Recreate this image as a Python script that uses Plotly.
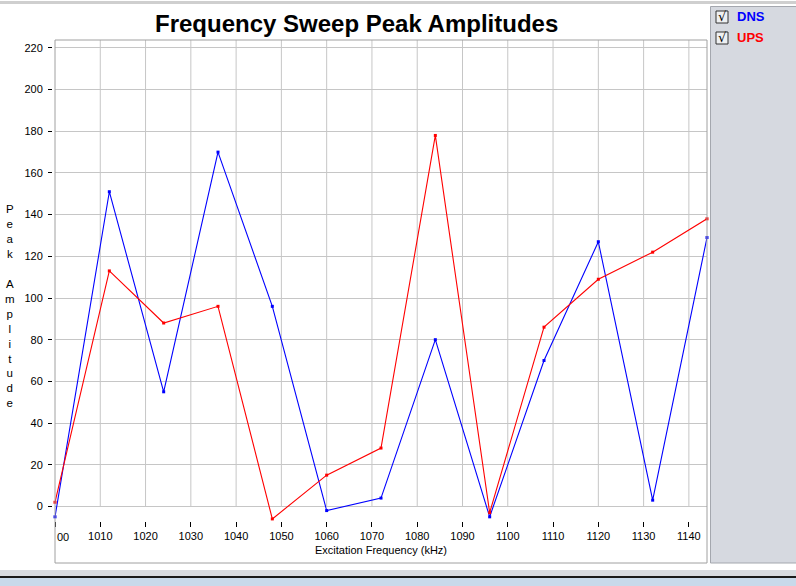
import plotly.graph_objects as go

# ---- data ----
freq_khz = [1000, 1012, 1024, 1036, 1048, 1060, 1072, 1084, 1096, 1108, 1120, 1132, 1144]
dns_amp = [-5, 151, 55, 170, 96, -2, 4, 80, -5, 70, 127, 3, 129]
ups_amp = [2, 113, 88, 96, -6, 15, 28, 178, -3, 86, 109, 122, 138]
x_ticks = [1000, 1010, 1020, 1030, 1040, 1050, 1060, 1070, 1080, 1090, 1100, 1110, 1120, 1130, 1140]
x_ticktext = [""] + [str(v) for v in x_ticks[1:]]
y_ticks = [0, 20, 40, 60, 80, 100, 120, 140, 160, 180, 200, 220]
series_names = ["DNS", "UPS"]
series_colors = ["#0000ff", "#ff0000"]
title_text = "Frequency Sweep Peak Amplitudes"
x_title = "Excitation Frequency (kHz)"
y_title = "Peak  Amplitude"

W, H = 796, 586
X_RANGE = [1000, 1144]
Y_RANGE = [-7, 223.8]


def px(x):
    return x / W


def py(y):
    return 1 - y / H


FONT = "Liberation Sans, Arial, sans-serif"

fig = go.Figure()
for name, vals, col in zip(series_names, [dns_amp, ups_amp], series_colors):
    fig.add_trace(go.Scatter(
        x=freq_khz, y=vals, name=name, mode="lines+markers",
        line=dict(color=col, width=1.1),
        marker=dict(symbol="square", size=3, color=col),
        showlegend=False, cliponaxis=False,
    ))

shapes = []
# vertical grid lines (only from 0 up to the top)
for xv in x_ticks[1:]:
    shapes.append(dict(type="line", xref="x", yref="y", x0=xv, x1=xv, y0=0, y1=Y_RANGE[1],
                       line=dict(color="#c6c6c6", width=1), layer="below"))
# plot frame
shapes.append(dict(type="rect", xref="paper", yref="paper", x0=px(55), x1=px(707), y0=py(563), y1=py(40),
                   line=dict(color="#a0a0a0", width=1), fillcolor="rgba(0,0,0,0)", layer="above"))
# top thin gray line
shapes.append(dict(type="rect", xref="paper", yref="paper", x0=0, x1=1, y0=py(4), y1=py(1),
                   line=dict(width=0), fillcolor="#cfcfcf", layer="below"))
# legend side panel
shapes.append(dict(type="rect", xref="paper", yref="paper", x0=px(710.5), x1=px(800), y0=py(563), y1=py(6.5),
                   line=dict(color="#a4a7ae", width=1), fillcolor="#d6d9e0", layer="below"))
# bottom strips
shapes.append(dict(type="rect", xref="paper", yref="paper", x0=0, x1=1, y0=py(576), y1=py(570),
                   line=dict(width=0), fillcolor="#d8dbe0", layer="below"))
shapes.append(dict(type="rect", xref="paper", yref="paper", x0=0, x1=1, y0=py(578), y1=py(576),
                   line=dict(width=0), fillcolor="#1a1a1a", layer="below"))
shapes.append(dict(type="rect", xref="paper", yref="paper", x0=0, x1=1, y0=0, y1=py(578),
                   line=dict(width=0), fillcolor="#c8d9ea", layer="below"))

annotations = []
# title
annotations.append(dict(text="<b>" + title_text + "</b>", x=px(356.5), y=py(23), xref="paper", yref="paper",
                        xanchor="center", yanchor="middle", showarrow=False,
                        font=dict(family=FONT, size=24, color="#000000")))
# clipped first tick label
annotations.append(dict(text="00", x=px(55), y=py(537), xref="paper", yref="paper",
                        xanchor="left", yanchor="middle", showarrow=False,
                        font=dict(family=FONT, size=11, color="#000000")))
# stacked y title
annotations.append(dict(text="<br>".join(list(y_title.replace("  ", " "))), x=px(10), y=py(306),
                        xref="paper", yref="paper", xanchor="center", yanchor="middle", showarrow=False,
                        font=dict(family=FONT, size=11.5, color="#000000")))
# legend entries with checkboxes
for i, (name, col) in enumerate(zip(series_names, series_colors)):
    yc = 17 + 21 * i
    shapes.append(dict(type="rect", xref="paper", yref="paper", x0=px(716), x1=px(728), y0=py(yc + 6),
                       y1=py(yc - 6), line=dict(color="#333333", width=1), fillcolor="#eef0f2"))
    annotations.append(dict(text="√", x=px(722), y=py(yc), xref="paper", yref="paper",
                            xanchor="center", yanchor="middle", showarrow=False,
                            font=dict(family="DejaVu Sans", size=13, color="#000000")))
    annotations.append(dict(text="<b>" + name + "</b>", x=px(735), y=py(yc), xref="paper", yref="paper",
                            xanchor="left", yanchor="middle", showarrow=False,
                            font=dict(family=FONT, size=13, color=col)))

fig.update_layout(
    width=W, height=H, margin=dict(l=0, r=0, t=0, b=0),
    paper_bgcolor="#ffffff", plot_bgcolor="#ffffff",
    font=dict(family=FONT, size=11, color="#000000"),
    shapes=shapes, annotations=annotations,
    xaxis=dict(domain=[px(55), px(707)], range=X_RANGE, tickvals=x_ticks, ticktext=x_ticktext,
               showgrid=False, zeroline=False, showline=False, ticks="outside", ticklen=5,
               tickcolor="#000000", tickfont=dict(size=11, color="#000000"),
               title=dict(text=x_title, font=dict(size=11, color="#000000"), standoff=5)),
    yaxis=dict(domain=[py(521), py(40)], range=Y_RANGE, tickvals=y_ticks,
               showgrid=True, gridcolor="#c6c6c6", gridwidth=1, zeroline=False, showline=False,
               ticks="outside", ticklen=4, tickcolor="#000000", anchor="free", position=px(52),
               ticklabelstandoff=3,
               tickfont=dict(size=11, color="#000000")),
)

fig.write_html("out.html")
